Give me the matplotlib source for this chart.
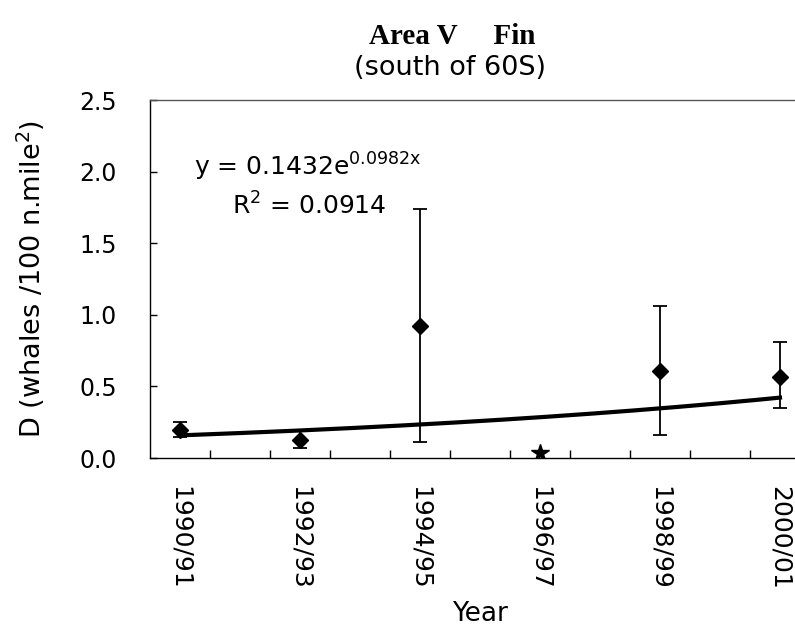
import numpy as np
import matplotlib
matplotlib.use("Agg")
import matplotlib.pyplot as plt

plt.rcParams['font.family'] = ['DejaVu Sans']
plt.rcParams['mathtext.fontset'] = 'dejavusans'

# seasons on the axis (one category per year)
seasons = ["1990/91", "1991/92", "1992/93", "1993/94", "1994/95", "1995/96",
           "1996/97", "1997/98", "1998/99", "1999/00", "2000/01"]
labelled = ["1990/91", "1992/93", "1994/95", "1996/97", "1998/99", "2000/01"]

# surveyed seasons and density estimates
survey = ["1990/91", "1992/93", "1994/95", "1998/99", "2000/01"]
density = [0.196, 0.126, 0.923, 0.610, 0.569]
lower = [0.150, 0.068, 0.110, 0.161, 0.347]
upper = [0.254, 0.190, 1.739, 1.058, 0.809]

# season with a star marker (no CI)
star_season = "1996/97"
star_density = 0.037

# exponential trend shown on the chart
trend_a = 0.1432
trend_b = 0.0982

xpos = {s: i + 1 for i, s in enumerate(seasons)}

fig = plt.figure(figsize=(7.95, 6.38), dpi=100)
ax = fig.add_axes([150 / 795, (638 - 458) / 638, 660 / 795, 358 / 638])

xs = np.array([xpos[s] for s in survey])
d = np.array(density)
yerr = [d - np.array(lower), np.array(upper) - d]
ax.errorbar(xs, d, yerr=yerr, fmt='D', color='black', ms=8, elinewidth=1.3,
            capsize=5, capthick=1.3, zorder=3)
ax.plot([xpos[star_season]], [star_density], marker='*', color='black',
        ms=13, ls='none', zorder=3)

tx = np.linspace(1, len(seasons), 200)
ax.plot(tx, trend_a * np.exp(trend_b * tx), color='black', lw=3, zorder=2)

ax.set_xlim(0.5, len(seasons) + 0.5)
ax.set_ylim(0, 2.5)
ax.set_yticks(np.arange(0, 2.51, 0.5))
ax.set_yticklabels([f"{v:.1f}" for v in np.arange(0, 2.51, 0.5)])

# tick marks between categories, labels at every other season
ax.set_xticks(np.arange(1.5, len(seasons) + 0.5, 1.0))
ax.set_xticklabels([])
ax.set_xticks([xpos[s] for s in labelled], minor=True)
ax.set_xticklabels(labelled, minor=True, rotation=-90, fontsize=18)
ax.tick_params(axis='x', which='major', direction='in', length=6, width=1)
ax.tick_params(axis='x', which='minor', length=0, pad=20)
ax.tick_params(axis='y', direction='in', length=5, width=1, labelsize=17, pad=24)

for sp in ax.spines.values():
    sp.set_linewidth(1)
ax.spines['top'].set_color('#555555')

ax.set_xlabel("Year", fontsize=19, labelpad=8)
ax.set_ylabel(r"D (whales /100 n.mile$^2$)", fontsize=19.5)
ax.yaxis.set_label_coords(-(150 - 47) / 660, 0.5)

ax.text(0.066, 0.79, r"y = 0.1432e$^{0.0982\mathrm{x}}$", transform=ax.transAxes,
        fontsize=18, va='baseline')
ax.text(0.124, 0.679, r"R$^2$ = 0.0914", transform=ax.transAxes,
        fontsize=18, va='baseline')

fig.text(452 / 795, 1 - 37 / 638, "Area V     Fin", ha='center', va='center',
         fontsize=21, fontweight='bold', family='Liberation Serif')
fig.text(450 / 795, 1 - 68 / 638, "(south of 60S)", ha='center', va='center',
         fontsize=19.5)

fig.savefig("out.png", dpi=100)
